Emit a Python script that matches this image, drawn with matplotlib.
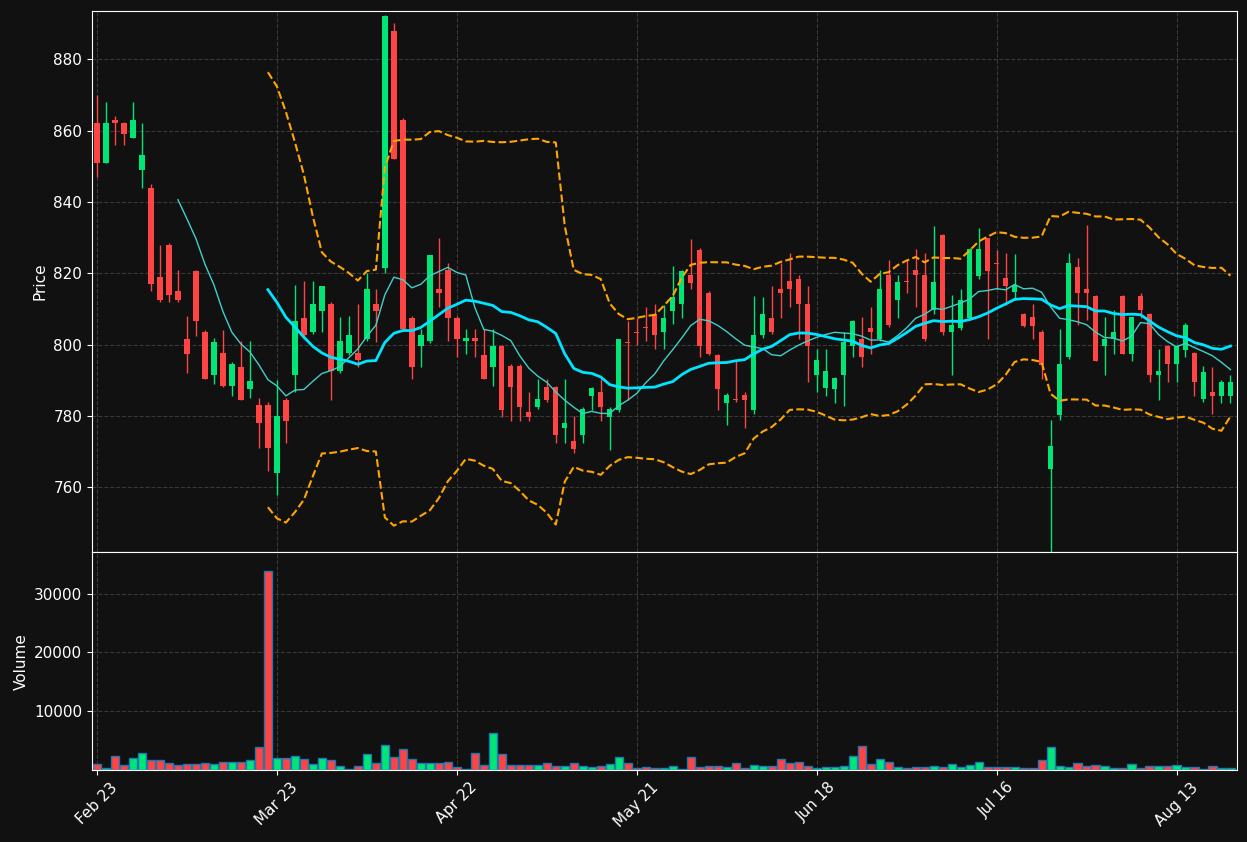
import numpy as np
import pandas as pd
import matplotlib
matplotlib.use("Agg")
import matplotlib.pyplot as plt

tick_labels = ["Feb 23", "Mar 23", "Apr 22", "May 21", "Jun 18", "Jul 16", "Aug 13"]

opens = [862, 851, 863, 862, 858, 849, 844, 819, 828, 815,
         801.6, 820.5, 803.6, 791.6, 797.7, 788.5, 793.8, 787.7, 783, 783,
         764, 784.6, 791.6, 807.5, 803.5, 809.4, 811.5, 792.6, 797.7, 797.7,
         801.6, 811.5, 821.4, 888, 863, 807.5, 799.6, 801, 815.7, 821,
         807.5, 801, 802, 797, 793.6, 799.7, 794, 794, 781, 782.5,
         788, 788, 776.7, 773, 774.7, 785.7, 786.8, 779.8, 781.7, 800.8,
         803.6, 804.8, 808.5, 803.5, 809.3, 811.3, 819.5, 826.5, 814.6, 797,
         783.7, 784.8, 785.9, 781.7, 802.6, 807.5, 815.7, 817.7, 818.5, 811.5,
         791.6, 787.8, 787.6, 791.5, 799.5, 801.6, 804.8, 801.6, 819.5, 812.5,
         817.6, 820.8, 819.5, 809.8, 830.8, 803.5, 804.7, 807.6, 819.2, 829.8,
         822.6, 818.8, 814.7, 808.5, 807.8, 803.6, 765.1, 780.3, 796.4, 821.7,
         815.7, 813.7, 799.5, 801.6, 813.7, 797.5, 813.7, 808.5, 791.4, 799.6,
         794.6, 798.5, 797.7, 784.9, 786.6, 785.6, 785.6]
highs = [870, 868, 864, 862.5, 868, 862, 845, 828, 828.5, 821,
         808, 821, 804, 802, 804, 795, 801, 801, 785, 784,
         790, 785, 816.6, 817.8, 817.8, 816.5, 812, 807.8, 808, 811.5,
         820, 815.7, 892.5, 890, 863.5, 808, 804.5, 825, 830, 823,
         808, 804.5, 804.5, 804.5, 804.5, 800, 794.5, 794.5, 786.7, 790.5,
         790.5, 788.5, 790.5, 780, 782.5, 788, 790.5, 782.5, 801.6, 806.6,
         807.6, 810.5, 811.5, 811, 822, 821, 829.6, 827, 815, 797.5,
         786.5, 795.7, 786.7, 813.6, 813.4, 816.4, 822.8, 825.8, 819.5, 816.4,
         798.7, 798.7, 791, 803.6, 807, 807.7, 810.5, 821, 823.8, 819.5,
         823.8, 826.8, 825.8, 833.2, 831, 814, 815.7, 827, 832.8, 830,
         826.6, 825.7, 825.5, 809, 811.5, 804, 779, 804.5, 825.7, 824.2,
         833.6, 814, 807.7, 809.6, 814, 807.8, 814.6, 809, 798.7, 800,
         800, 806, 798, 794, 793.6, 790, 791.5]
lows = [847, 851, 856, 856, 858, 844, 815, 812, 812, 812,
        792, 802.5, 790.5, 789, 788, 785.5, 784.5, 785, 771, 764.5,
        758, 772.5, 786.7, 802, 803, 803.5, 784.5, 792, 797, 793.6,
        801, 800.8, 820, 852, 804, 790.5, 793.6, 800.5, 810.5, 801,
        796.5, 797.5, 796.6, 790.5, 788.5, 779.7, 778.6, 778.6, 778.6, 782,
        784, 772.5, 772.5, 769.6, 772.5, 781.8, 778.6, 770.6, 781, 784.5,
        800, 801, 798.7, 798.7, 805.7, 807.5, 815.7, 796.5, 797, 781.7,
        777.6, 784, 776.6, 780.6, 802, 803, 807.5, 810.5, 801.6, 789.5,
        786.8, 785.7, 783.7, 782.7, 796.5, 793.6, 797.5, 801, 805, 807.5,
        814.6, 810.5, 801, 808.5, 802.6, 791.4, 804, 807, 818.5, 801.5,
        815.7, 811, 812.4, 805, 801.6, 790.4, 742, 779, 796, 805.4,
        806.8, 795.5, 791.5, 797.5, 797.5, 795.5, 807.5, 789.5, 784.6, 789.5,
        789.5, 796.5, 785.7, 783.9, 780.6, 783.7, 783.7]
closes = [851, 862, 862, 859, 863, 853, 817, 812.5, 814, 812.5,
          797.5, 806.6, 790.5, 800.8, 788.5, 794.6, 784.5, 789.9, 778, 771,
          780, 778.6, 806.7, 802.6, 811.5, 816.4, 792.6, 801, 802.8, 795.7,
          815.7, 809.3, 892, 852, 804.5, 793.6, 802.6, 825, 814.4, 807.4,
          801.6, 802, 801, 790.5, 799.7, 781.7, 788, 782.5, 779.8, 784.8,
          784.6, 774.7, 778, 770.8, 782, 787.8, 782.5, 782, 801.6, 800.5,
          803.4, 804.6, 802.6, 807.5, 813.4, 820.5, 817.4, 799.5, 797.5, 787.6,
          785.9, 784.6, 784.5, 802.8, 808.5, 803.5, 814.4, 815.5, 811.3, 799.5,
          795.8, 792.6, 790.6, 800.8, 806.7, 796.6, 803.5, 815.7, 805.5, 817.6,
          817.5, 819.5, 801.6, 817.6, 803.5, 805.5, 812.6, 826.7, 826.7, 820.5,
          822.5, 816.4, 816.6, 805.3, 805.3, 794.4, 771.6, 794.7, 822.8, 814.4,
          814.4, 795.5, 801.6, 803.5, 797.5, 807.8, 809.7, 791.4, 792.6, 794.6,
          799.6, 805.5, 789.5, 792.4, 785.6, 789.5, 789.5]
volumes = [1070, 310, 2390, 880, 2010, 2950, 1630, 1630, 1260, 880,
           1070, 1070, 1260, 1070, 1440, 1440, 1440, 1630, 3890, 33900,
           2010, 2010, 2390, 1820, 1070, 2010, 1630, 690, 190, 690,
           2760, 1260, 4270, 2200, 3520, 1820, 1260, 1260, 1260, 1440,
           500, 190, 2950, 880, 6340, 2760, 880, 880, 880, 880,
           1260, 690, 690, 1260, 690, 500, 690, 1070, 2200, 1260,
           310, 500, 310, 310, 690, 190, 2200, 500, 690, 690,
           500, 1260, 310, 880, 690, 690, 1820, 1260, 1440, 690,
           310, 500, 500, 690, 2390, 4080, 1070, 1820, 1440, 500,
           310, 500, 500, 690, 500, 1070, 500, 880, 1440, 500,
           500, 500, 500, 310, 310, 1630, 3890, 690, 500, 1260,
           690, 880, 690, 310, 310, 1070, 310, 690, 690, 690,
           880, 500, 500, 190, 690, 310, 310]

UP = "#00e676"
DOWN = "#ff4444"
BG = "#111111"

df = pd.DataFrame({"open": opens, "high": highs, "low": lows,
                   "close": closes, "volume": volumes})
x = np.arange(len(df))
ma10 = df["close"].rolling(10).mean()
ma20 = df["close"].rolling(20).mean()
sd20 = df["close"].rolling(20).std(ddof=0)
upper = ma20 + 2 * sd20
lower = ma20 - 2 * sd20

fig = plt.figure(figsize=(12.47, 8.42), dpi=100, facecolor=BG)
ax = fig.add_axes([0.0738, 0.344, 0.918, 0.643])
axv = fig.add_axes([0.0738, 0.0855, 0.918, 0.2585], sharex=ax)

up = df["close"] >= df["open"]
colors = np.where(up, UP, DOWN)
body_lo = np.minimum(df["open"], df["close"])
body_h = np.maximum(np.abs(df["close"] - df["open"]), 0.25)

ax.vlines(x, df["low"], df["high"], colors=colors, linewidth=1, zorder=2)
ax.bar(x, body_h, bottom=body_lo, width=0.6, color=colors, zorder=3)
ax.plot(x, ma10, color="#40d0c8", linewidth=1, zorder=4)
ax.plot(x, ma20, color="#00e5ff", linewidth=2, zorder=4)
ax.plot(x, upper, color="#ffa500", linewidth=1.5, linestyle="--", zorder=4)
ax.plot(x, lower, color="#ffa500", linewidth=1.5, linestyle="--", zorder=4)

axv.bar(x, df["volume"], width=0.9, color=colors, edgecolor="#1f77b4", linewidth=1)

for a in (ax, axv):
    a.set_facecolor(BG)
    a.grid(True, color="#444444", linestyle="--", linewidth=0.8, alpha=0.8)
    a.set_axisbelow(True)
    a.tick_params(colors="white", labelsize=11)
    for s in a.spines.values():
        s.set_color("white")

ax.set_ylim(741.8, 893.5)
ax.set_yticks(range(760, 881, 20))
ax.set_ylabel("Price", color="white", fontsize=11)
axv.set_ylim(0, 37000)
axv.set_yticks([10000, 20000, 30000])
axv.set_ylabel("Volume", color="white", fontsize=11)
axv.set_xlim(-0.55, 126.7)
axv.set_xticks(np.arange(0, 121, 20))
axv.set_xticklabels(tick_labels, rotation=45)
plt.setp(ax.get_xticklabels(), visible=False)

plt.savefig("out.png", facecolor=BG)
